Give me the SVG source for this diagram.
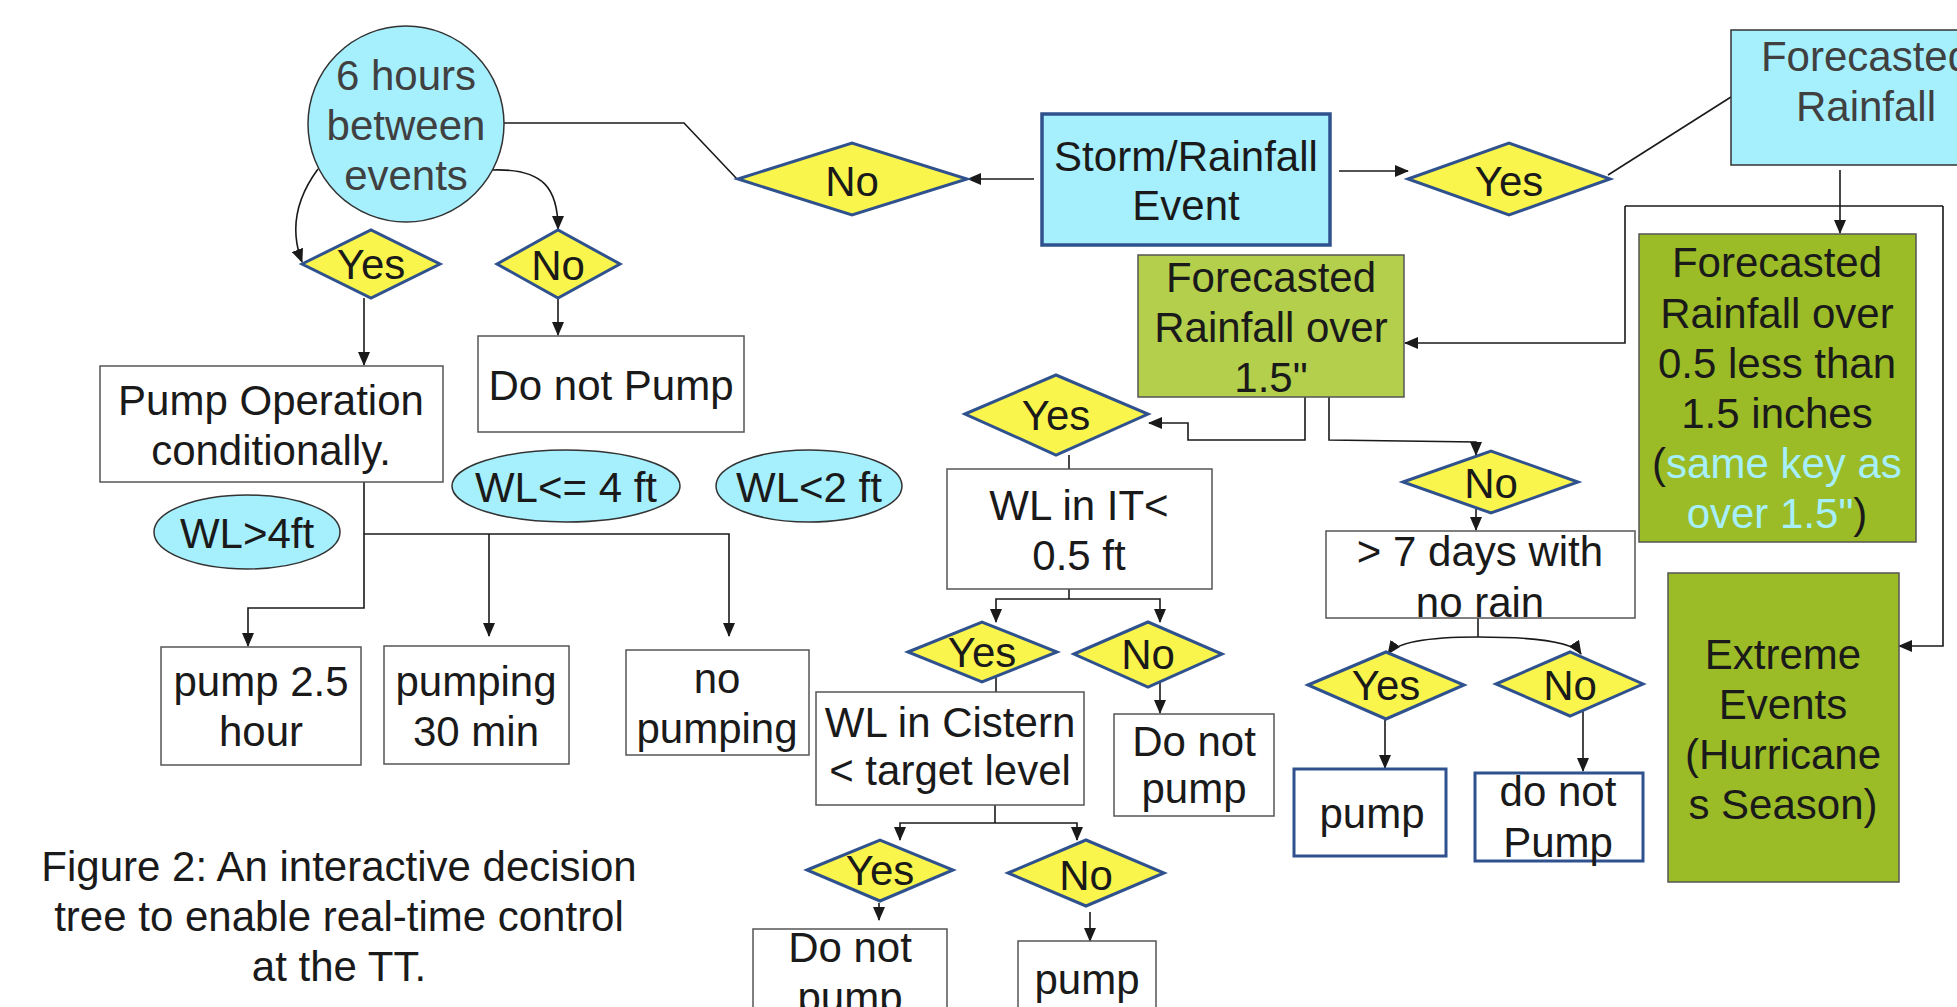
<svg xmlns="http://www.w3.org/2000/svg" width="1957" height="1007" viewBox="0 0 1957 1007">
<defs>
<marker id="ah" markerUnits="userSpaceOnUse" markerWidth="14" markerHeight="12" refX="13" refY="6" orient="auto">
<path d="M0,0 L14,6 L0,12 z" fill="#1a1a1a"/>
</marker>
</defs>
<style>
text{font-family:"Liberation Sans",Arial,sans-serif;font-size:42px;fill:#1a1a1a;text-anchor:middle}
.g{fill:#404040}
.c{fill:#A6EFFB}
.k{fill:#1a1a1a}
.box{fill:#fff;stroke:#555;stroke-width:1.5}
.bbox{fill:#fff;stroke:#2F528F;stroke-width:3}
.cy{fill:#A6EFFC;stroke:#333;stroke-width:1.5}
.cyb{fill:#A6EFFC;stroke:#2F528F;stroke-width:3.5}
.g1{fill:#B3CF4B;stroke:#555;stroke-width:1.5}
.g2{fill:#9BBC27;stroke:#555;stroke-width:1.5}
.dia{fill:#F9F54C;stroke:#2F528F;stroke-width:3}
.ln{fill:none;stroke:#1a1a1a;stroke-width:1.6}
.ar{fill:none;stroke:#1a1a1a;stroke-width:1.6;marker-end:url(#ah)}
</style>
<rect width="1957" height="1007" fill="#fff"/>

<g id="connectors">
<path class="ar" d="M318,169 Q284,215 302,262"/>
<path class="ar" d="M492,170 C545,168 558,190 558,229"/>
<path class="ln" d="M737,179 L684,123 H504"/>
<path class="ar" d="M1034,179 H968"/>
<path class="ar" d="M1339,171 H1408"/>
<path class="ln" d="M1608,175 L1731,97"/>
<path class="ar" d="M1840,170 V233"/>
<path class="ln" d="M1625,206 H1943"/>
<path class="ar" d="M1625,206 V343 H1405"/>
<path class="ar" d="M1943,206 V646 H1899"/>
<path class="ar" d="M364,298 V365"/>
<path class="ar" d="M558,298 V335"/>
<path class="ar" d="M364,482 V608 H248 V646"/>
<path class="ar" d="M364,534 H729 V636"/>
<path class="ar" d="M489,534 V636"/>
<path class="ar" d="M1305,397 V440 H1188 V423 H1149"/>
<path class="ar" d="M1329,397 V440 L1476,442 V455"/>
<path class="ar" d="M1476,500 V530"/>
<path class="ln" d="M1478,618 V637"/>
<path class="ar" d="M1478,637 Q1400,637 1388,654"/>
<path class="ar" d="M1478,637 Q1570,637 1581,654"/>
<path class="ar" d="M1385,700 V768"/>
<path class="ar" d="M1583,700 V771"/>
<path class="ar" d="M1069,455 V491"/>
<path class="ln" d="M1069,577 V599"/>
<path class="ar" d="M1069,599 H996 V622"/>
<path class="ar" d="M1069,599 H1160 V622"/>
<path class="ln" d="M996,669 V692"/>
<path class="ar" d="M1160,671 V713"/>
<path class="ln" d="M995,805 V823"/>
<path class="ar" d="M995,823 H900 V840"/>
<path class="ar" d="M995,823 H1077 V840"/>
<path class="ar" d="M879,903 V920"/>
<path class="ar" d="M1090,912 V941"/>
</g>

<g id="n-6hours">
<ellipse class="cy" cx="406" cy="124" rx="98" ry="98"/>
<text class="g" x="406" y="90">6 hours</text>
<text class="g" x="406" y="140">between</text>
<text class="g" x="406" y="190">events</text>
</g>

<g id="n-no-top">
<polygon class="dia" points="738,179 852,143 967,179 852,215"/>
<text x="852" y="196" font-size="40">No</text>
</g>

<g id="n-storm">
<rect class="cyb" x="1042" y="114" width="288" height="131"/>
<text x="1186" y="171">Storm/Rainfall</text>
<text x="1186" y="220">Event</text>
</g>

<g id="n-yes-top">
<polygon class="dia" points="1408,179 1509,143 1610,179 1509,215"/>
<text x="1509" y="196" font-size="40">Yes</text>
</g>

<g id="n-forecast">
<rect class="cy" x="1731" y="30" width="240" height="135"/>
<text class="g" x="1866" y="71">Forecasted</text>
<text class="g" x="1866" y="121">Rainfall</text>
</g>

<g id="n-yes-left">
<polygon class="dia" points="302,264 371,230 440,264 371,298"/>
<text x="371" y="279" font-size="40">Yes</text>
</g>

<g id="n-no-left">
<polygon class="dia" points="497,264 558,230 620,264 558,298"/>
<text x="558" y="280" font-size="40">No</text>
</g>

<g id="n-pumpop">
<rect class="box" x="100" y="366" width="343" height="116"/>
<text x="271" y="415">Pump Operation</text>
<text x="271" y="465">conditionally.</text>
</g>

<g id="n-donotpump1">
<rect class="box" x="478" y="336" width="266" height="96"/>
<text x="611" y="400">Do not Pump</text>
</g>

<g id="n-wl-gt4">
<ellipse class="cy" cx="247" cy="532" rx="93" ry="37"/>
<text x="247" y="548">WL&gt;4ft</text>
</g>

<g id="n-wl-le4">
<ellipse class="cy" cx="566" cy="486" rx="114" ry="36"/>
<text x="566" y="502">WL&lt;= 4 ft</text>
</g>

<g id="n-wl-lt2">
<ellipse class="cy" cx="809" cy="486" rx="93" ry="36"/>
<text x="809" y="502">WL&lt;2 ft</text>
</g>

<g id="n-pump25">
<rect class="box" x="161" y="647" width="200" height="118"/>
<text x="261" y="696">pump 2.5</text>
<text x="261" y="746">hour</text>
</g>

<g id="n-pump30">
<rect class="box" x="384" y="646" width="185" height="118"/>
<text x="476" y="696">pumping</text>
<text x="476" y="746">30 min</text>
</g>

<g id="n-nopumping">
<rect class="box" x="626" y="650" width="183" height="105"/>
<text x="717" y="693">no</text>
<text x="717" y="743">pumping</text>
</g>

<g id="caption">
<text x="339" y="881">Figure 2: An interactive decision</text>
<text x="339" y="931">tree to enable real-time control</text>
<text x="339" y="981">at the TT.</text>
</g>

<g id="n-over15">
<rect class="g1" x="1138" y="255" width="266" height="142"/>
<text x="1271" y="292">Forecasted</text>
<text x="1271" y="342">Rainfall over</text>
<text x="1271" y="392">1.5"</text>
</g>

<g id="n-05to15">
<rect class="g2" x="1639" y="234" width="277" height="308"/>
<text x="1777" y="277">Forecasted</text>
<text x="1777" y="328">Rainfall over</text>
<text x="1777" y="378">0.5 less than</text>
<text x="1777" y="428">1.5 inches</text>
<text x="1777" y="478">(<tspan class="c">same key as</tspan></text>
<text x="1777" y="528"><tspan class="c">over 1.5"</tspan>)</text>
</g>

<g id="n-extreme">
<rect class="g2" x="1668" y="573" width="231" height="309"/>
<text x="1783" y="669">Extreme</text>
<text x="1783" y="719">Events</text>
<text x="1783" y="769">(Hurricane</text>
<text x="1783" y="819">s Season)</text>
</g>

<g id="n-yes-mid">
<polygon class="dia" points="965,414 1056,375 1148,414 1056,455"/>
<text x="1056" y="430" font-size="40">Yes</text>
</g>

<g id="n-no-mid">
<polygon class="dia" points="1403,482 1491,451 1578,482 1491,513"/>
<text x="1491" y="498" font-size="40">No</text>
</g>

<g id="n-7days">
<rect class="box" x="1326" y="531" width="309" height="87"/>
<text x="1480" y="566">&gt; 7 days with</text>
<text x="1480" y="617">no rain</text>
</g>

<g id="n-yes-r">
<polygon class="dia" points="1308,685 1386,652 1464,685 1386,719"/>
<text x="1386" y="700" font-size="40">Yes</text>
</g>

<g id="n-no-r">
<polygon class="dia" points="1496,684 1570,652 1643,684 1570,716"/>
<text x="1570" y="700" font-size="40">No</text>
</g>

<g id="n-pump-r">
<rect class="bbox" x="1294" y="769" width="152" height="87"/>
<text x="1372" y="828">pump</text>
</g>

<g id="n-donotpump-r">
<rect class="bbox" x="1475" y="773" width="168" height="88"/>
<text x="1558" y="806">do not</text>
<text x="1558" y="857">Pump</text>
</g>

<g id="n-wlit">
<rect class="box" x="947" y="469" width="265" height="120"/>
<text x="1079" y="520">WL in IT&lt;</text>
<text x="1079" y="570">0.5 ft</text>
</g>

<g id="n-yes-m2">
<polygon class="dia" points="908,652 982,622 1057,652 982,682"/>
<text x="982" y="667" font-size="40">Yes</text>
</g>

<g id="n-no-m2">
<polygon class="dia" points="1074,654 1148,622 1222,654 1148,687"/>
<text x="1148" y="669" font-size="40">No</text>
</g>

<g id="n-cistern">
<rect class="box" x="816" y="692" width="268" height="113"/>
<text x="950" y="737" font-size="36">WL in Cistern</text>
<text x="950" y="785" font-size="36">&lt; target level</text>
</g>

<g id="n-donotpump-m">
<rect class="box" x="1114" y="714" width="160" height="102"/>
<text x="1194" y="756">Do not</text>
<text x="1194" y="803">pump</text>
</g>

<g id="n-yes-b">
<polygon class="dia" points="807,870 880,840 953,870 880,901"/>
<text x="880" y="885" font-size="35">Yes</text>
</g>

<g id="n-no-b">
<polygon class="dia" points="1008,873 1086,840 1164,873 1086,906"/>
<text x="1086" y="890" font-size="40">No</text>
</g>

<g id="n-donotpump-b">
<rect class="box" x="753" y="929" width="194" height="100"/>
<text x="850" y="962">Do not</text>
<text x="850" y="1012">pump</text>
</g>

<g id="n-pump-b">
<rect class="box" x="1018" y="941" width="138" height="90"/>
<text x="1087" y="994">pump</text>
</g>
</svg>
